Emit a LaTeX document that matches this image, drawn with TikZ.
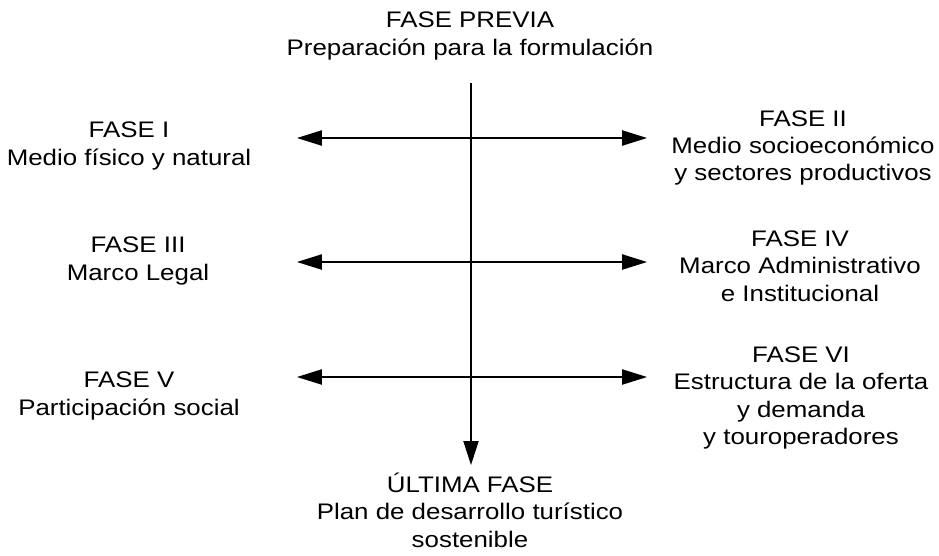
\documentclass[tikz,border=0pt]{standalone}
\usepackage{fontspec}
\setmainfont[FakeStretch=1.15]{Liberation Sans}
\usetikzlibrary{arrows.meta}

\tikzset{
  fase/.style={align=center, font=\fontsize{16}{19.5}\selectfont, inner sep=0pt},
  flecha/.style={line width=0.9pt, {Triangle[length=0.62cm, width=0.38cm]}-{Triangle[length=0.62cm, width=0.38cm]}},
}

\begin{document}
\begin{tikzpicture}[x=0.025cm, y=-0.025cm]
        \useasboundingbox (0,0) rectangle (939,555);

        \node[fase] (previa) at (470, 36) {FASE PREVIA\\Preparación para la formulación};
        \node[fase] (f1) at (129, 146) {FASE I\\Medio físico y natural};
        \node[fase] (f2) at (803, 148) {FASE II\\Medio socioeconómico\\y sectores productivos};
        \node[fase] (f3) at (138, 261) {FASE III\\Marco Legal};
        \node[fase] (f4) at (800, 266) {FASE IV\\Marco Administrativo\\e Institucional};
        \node[fase] (f5) at (129, 396) {FASE V\\Participación social};
        \node[fase] (f6) at (801, 398) {FASE VI\\Estructura de la oferta\\y demanda\\y touroperadores};
        \node[fase] (ultima) at (470, 510) {ÚLTIMA FASE\\Plan de desarrollo turístico\\sostenible};

        % eje central
        \coordinate (arriba) at (471, 83);
        \coordinate (abajo) at (471, 465);
        \draw[line width=0.9pt, -{Triangle[length=0.6cm, width=0.38cm]}] (arriba) -- (abajo);

        % flechas laterales
        \coordinate (i1) at (297, 138);
        \coordinate (d1) at (647, 138);
        \coordinate (i2) at (297, 262);
        \coordinate (d2) at (647, 262);
        \coordinate (i3) at (297, 377);
        \coordinate (d3) at (647, 377);
        \draw[flecha] (i1) -- (d1);
        \draw[flecha] (i2) -- (d2);
        \draw[flecha] (i3) -- (d3);

    \end{tikzpicture}
\end{document}
